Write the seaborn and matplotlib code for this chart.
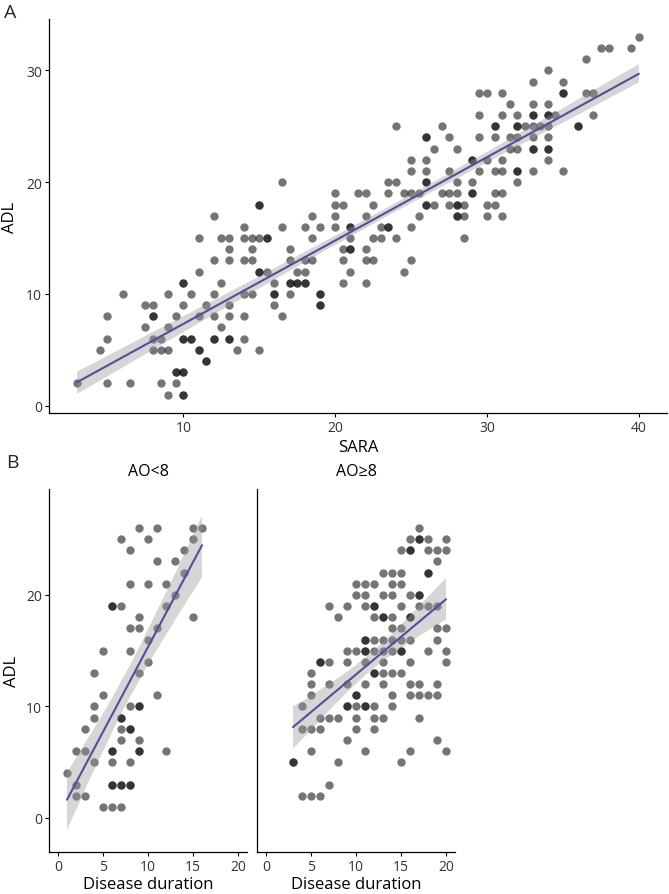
import numpy as np
import pandas as pd
import seaborn as sns
import matplotlib.pyplot as plt

sns.set_theme(style="ticks")
plt.rcParams['font.family'] = ['Open Sans', 'DejaVu Sans']

# ---------------- Panel A : ADL vs SARA ----------------
sara_a = [
    9, 10, 10,
    3, 5, 6.5, 8.5, 9.5,
    9.5, 9.5, 10, 10,
    11.5, 11.5,
    4.5, 8, 8.5, 9, 11, 11, 13.5, 15,
    5, 8, 8.5, 10, 10, 10.5, 10.5, 12, 12, 13, 13, 14,
    7.5, 9, 12.5,
    5, 8, 8, 9.5, 11, 12, 13, 14, 16.5,
    7.5, 8, 10, 11.5, 13, 16, 19, 19,
    6, 9, 10.5, 12, 14, 14.5, 16, 16, 17, 19, 19,
    10, 10, 12.5, 16, 17, 17, 17.5, 17.5, 18, 18, 20.5, 22,
    11, 15, 15, 15.5, 17.5, 18, 21, 24.5,
    12, 13, 14, 14.5, 17, 18, 18.5, 20.5, 22, 22.5, 25,
    13, 14.5, 17, 20.5, 21, 21, 22,
    11, 12.5, 13, 14, 14.5, 15, 15.5, 15.5, 18.5, 21, 22.5, 23, 24, 28.5,
    14, 16.5, 18, 19, 20, 21, 21, 23, 23.5, 23.5, 25,
    12, 18.5, 20, 22, 25.5, 28, 28, 28.5, 30, 31,
    15, 15, 20, 20.5, 22.5, 26, 26, 26.5, 27.5, 28, 28, 28.5, 30, 30.5,
    20, 21.5, 22, 23.5, 24.5, 25, 25.5, 27, 27.5, 28, 29, 29, 30.5, 31,
    16.5, 23.5, 24, 26, 26, 28, 29, 32,
    25, 26, 27.5, 29.5, 30.5, 31, 32, 32, 33, 35,
    25, 26, 29, 29, 30, 31, 34,
    26.5, 28, 31.5, 32, 33, 33, 34, 34,
    26, 26, 27.5, 29.5, 30.5, 31.5, 32, 33, 34,
    24, 27, 30.5, 30.5, 32, 32, 32.5, 33, 33.5, 34, 36, 36,
    29.5, 31, 32, 33, 33, 34, 34, 34.5, 37,
    31.5, 33, 34,
    29.5, 30, 31, 35, 35, 36.5, 37,
    33, 35,
    34,
    36.5,
    37.5, 38, 39.5,
    40,
]
adl_a = [
    1, 1, 1,
    2, 2, 2, 2, 2,
    3, 3, 3, 3,
    4, 4,
    5, 5, 5, 5, 5, 5, 5, 5,
    6, 6, 6, 6, 6, 6, 6, 6, 6, 6, 6, 6,
    7, 7, 7,
    8, 8, 8, 8, 8, 8, 8, 8, 8,
    9, 9, 9, 9, 9, 9, 9, 9,
    10, 10, 10, 10, 10, 10, 10, 10, 10, 10, 10,
    11, 11, 11, 11, 11, 11, 11, 11, 11, 11, 11, 11,
    12, 12, 12, 12, 12, 12, 12, 12,
    13, 13, 13, 13, 13, 13, 13, 13, 13, 13, 13,
    14, 14, 14, 14, 14, 14, 14,
    15, 15, 15, 15, 15, 15, 15, 15, 15, 15, 15, 15, 15, 15,
    16, 16, 16, 16, 16, 16, 16, 16, 16, 16, 16,
    17, 17, 17, 17, 17, 17, 17, 17, 17, 17,
    18, 18, 18, 18, 18, 18, 18, 18, 18, 18, 18, 18, 18, 18,
    19, 19, 19, 19, 19, 19, 19, 19, 19, 19, 19, 19, 19, 19,
    20, 20, 20, 20, 20, 20, 20, 20,
    21, 21, 21, 21, 21, 21, 21, 21, 21, 21,
    22, 22, 22, 22, 22, 22, 22,
    23, 23, 23, 23, 23, 23, 23, 23,
    24, 24, 24, 24, 24, 24, 24, 24, 24,
    25, 25, 25, 25, 25, 25, 25, 25, 25, 25, 25, 25,
    26, 26, 26, 26, 26, 26, 26, 26, 26,
    27, 27, 27,
    28, 28, 28, 28, 28, 28, 28,
    29, 29,
    30,
    31,
    32, 32, 32,
    33,
]

# ---------------- Panel B : ADL vs disease duration, by age at onset ----------------
dd_young = [
    9, 11, 15, 16,
    7, 10, 15,
    8, 14,
    11, 13,
    14,
    8, 10, 12,
    13,
    6, 6, 7, 12,
    9, 15,
    8, 9, 11,
    10,
    5, 8,
    10,
    4, 9,
    5, 11,
    4, 8, 9, 9,
    4, 7, 7,
    3, 7, 8, 8,
    7, 9,
    2, 3, 6, 6, 9, 9, 12,
    4, 6, 8,
    1,
    2, 6, 6, 7, 7, 8, 8,
    2, 3,
    5, 6, 7,
]
adl_young = [
    26, 26, 26, 26,
    25, 25, 25,
    24, 24,
    23, 23,
    22,
    21, 21, 21,
    20,
    19, 19, 19, 19,
    18, 18,
    17, 17, 17,
    16,
    15, 15,
    14,
    13, 13,
    11, 11,
    10, 10, 10, 10,
    9, 9, 9,
    8, 8, 8, 8,
    7, 7,
    6, 6, 6, 6, 6, 6, 6,
    5, 5, 5,
    4,
    3, 3, 3, 3, 3, 3, 3,
    2, 2,
    1, 1, 1,
]

dd_old = [
    17,
    16, 17, 17, 18, 20,
    15, 16, 16, 18, 19, 20,
    19,
    13, 14, 15, 18, 18,
    10, 11, 12, 14, 15,
    10, 11, 13, 14, 16, 17, 17,
    7, 9, 11, 12, 12, 15, 17, 18, 19,
    8, 12, 13, 13, 14, 16, 16,
    14, 15, 19, 20,
    11, 11, 12, 13, 14, 15, 16, 19,
    9, 10, 11, 11, 12, 13, 14, 15, 15, 18, 20,
    6, 6, 7, 9, 11, 13, 16, 20,
    5, 12, 12, 13, 14, 15,
    5, 7, 9, 11, 13, 16, 17, 19,
    5, 10, 10, 14, 16, 17, 18, 19,
    4, 9, 9, 10, 11, 11, 12, 14,
    6, 7, 8, 10, 12, 13, 17,
    4, 5, 6, 10, 12,
    9, 19,
    5, 11, 16, 20,
    3, 3, 8, 15,
    7,
    4, 5, 6,
]
adl_old = [
    26,
    25, 25, 25, 25, 25,
    24, 24, 24, 24, 24, 24,
    23,
    22, 22, 22, 22, 22,
    21, 21, 21, 21, 21,
    20, 20, 20, 20, 20, 20, 20,
    19, 19, 19, 19, 19, 19, 19, 19, 19,
    18, 18, 18, 18, 18, 18, 18,
    17, 17, 17, 17,
    16, 16, 16, 16, 16, 16, 16, 16,
    15, 15, 15, 15, 15, 15, 15, 15, 15, 15, 15,
    14, 14, 14, 14, 14, 14, 14, 14,
    13, 13, 13, 13, 13, 13,
    12, 12, 12, 12, 12, 12, 12, 12,
    11, 11, 11, 11, 11, 11, 11, 11,
    10, 10, 10, 10, 10, 10, 10, 10,
    9, 9, 9, 9, 9, 9, 9,
    8, 8, 8, 8, 8,
    7, 7,
    6, 6, 6, 6,
    5, 5, 5, 5,
    3,
    2, 2, 2,
]

facet_titles = ["AO<8", "AO\u22658"]

df_a = pd.DataFrame({"SARA": sara_a, "ADL": adl_a})
df_y = pd.DataFrame({"Disease duration": dd_young, "ADL": adl_young})
df_o = pd.DataFrame({"Disease duration": dd_old, "ADL": adl_old})

# ---------------- styling ----------------
W, H = 669, 895
LINE_COL = "#4D5199"
BAND_COL = "#999999"
TICK_FS = 10
LAB_FS = 12

def rect(l, r, t, b):
    return [l / W, 1 - b / H, (r - l) / W, (b - t) / H]

fig = plt.figure(figsize=(W / 100, H / 100), dpi=100)
axA = fig.add_axes(rect(49, 667, 20, 414))
axB1 = fig.add_axes(rect(49, 247, 490, 853))
axB2 = fig.add_axes(rect(257, 455, 490, 853))

scat = dict(s=36, color="black", alpha=0.54, linewidths=0)
line = dict(color=LINE_COL, lw=1.5)

def draw(ax, data, x):
    sns.regplot(data=data, x=x, y="ADL", ax=ax, ci=95, seed=3, n_boot=1000,
                scatter_kws=scat, line_kws=line)
    band = ax.collections[-1]
    band.set_facecolor(BAND_COL)
    band.set_edgecolor("none")
    band.set_alpha(0.4)

draw(axA, df_a, "SARA")
draw(axB1, df_y, "Disease duration")
draw(axB2, df_o, "Disease duration")

def style(ax):
    sns.despine(ax=ax)
    for s in ("left", "bottom"):
        ax.spines[s].set_linewidth(0.9)
        ax.spines[s].set_color("black")
    ax.tick_params(axis="both", direction="out", length=3, width=0.8,
                   color="black", labelsize=TICK_FS, labelcolor="#333333", pad=2)

# Panel A
axA.set_xlim(1.15, 41.85)
axA.set_ylim(-0.65, 34.6)
axA.set_xticks([10, 20, 30, 40])
axA.set_yticks([0, 10, 20, 30])
style(axA)
axA.set_xlabel("SARA", fontsize=LAB_FS, color="black")
axA.set_ylabel("ADL", fontsize=LAB_FS, color="black")
axA.xaxis.set_label_coords(0.5, (414 - 448) / 394)
axA.xaxis.label.set_va("center")
axA.yaxis.set_label_coords((10 - 49) / 618, 0.5)
axA.yaxis.label.set_va("center")

# Panel B facets
for ax, title in zip((axB1, axB2), facet_titles):
    ax.set_xlim(-1, 21)
    ax.set_ylim(-3.05, 29.5)
    ax.set_xticks([0, 5, 10, 15, 20])
    ax.set_yticks([0, 10, 20])
    style(ax)
    ax.set_xlabel("Disease duration", fontsize=LAB_FS, color="black")
    ax.xaxis.set_label_coords(0.5, (853 - 885) / 363)
    ax.xaxis.label.set_va("center")
    ax.text(0.5, 1 + (490 - 472) / 363, title, transform=ax.transAxes,
            ha="center", va="center", fontsize=11.5, color="black",
            family=["Open Sans", "DejaVu Sans"])

axB1.set_ylabel("ADL", fontsize=LAB_FS, color="black")
axB1.yaxis.set_label_coords((12 - 49) / 198, 0.5)
axB1.yaxis.label.set_va("center")
axB2.set_ylabel("")
axB2.tick_params(axis="y", length=0, labelleft=False)

fig.text(10 / W, 1 - 13 / H, "A", fontsize=14, ha="center", va="center")
fig.text(12 / W, 1 - 463 / H, "B", fontsize=14, ha="center", va="center")

fig.savefig("out.png", dpi=100)
